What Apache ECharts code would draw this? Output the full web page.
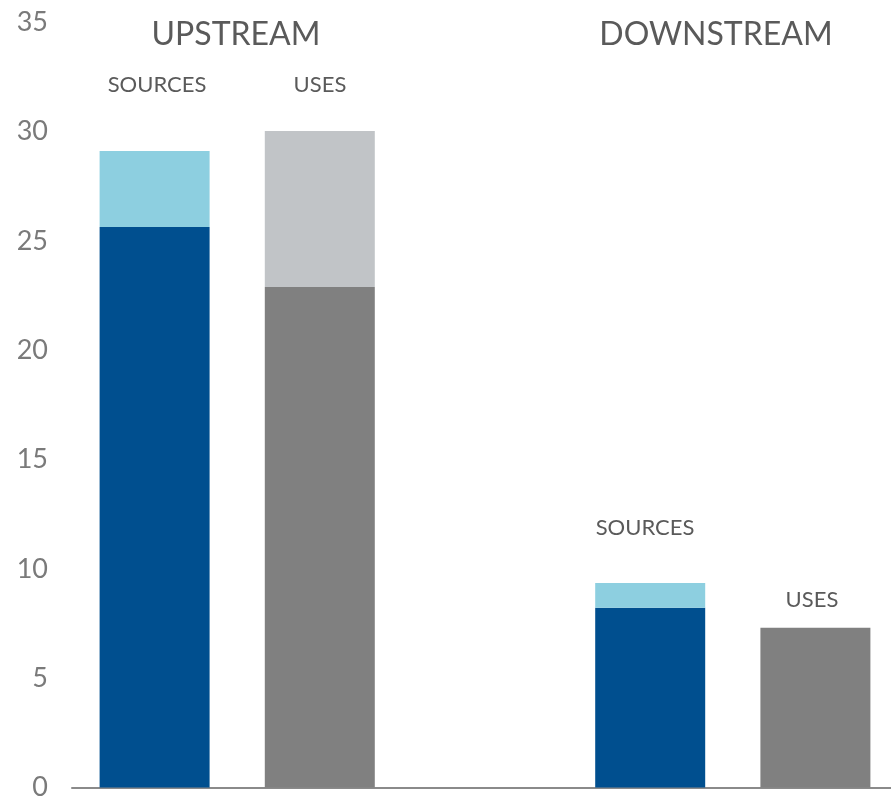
<!DOCTYPE html>
<html><head><meta charset="utf-8">
<script src="https://cdn.jsdelivr.net/npm/echarts@6/dist/echarts.min.js"></script>
<style>html,body{margin:0;padding:0;background:#fff;overflow:hidden}#c{width:891px;height:796px}</style>
</head><body><div id="c"></div>
<script>
const categories = ['Upstream Sources', 'Upstream Uses', '', 'Downstream Sources', 'Downstream Uses'];
const baseValues = [25.64, 22.9, null, 8.22, 7.31];
const topValues = [3.48, 7.14, null, 1.14, 0];
const baseColors = ['#004f8f', '#808080', '#fff', '#004f8f', '#808080'];
const topColors = ['#8dcfe0', '#c1c4c7', '#fff', '#8dcfe0', '#c1c4c7'];
const yTicks = [0, 5, 10, 15, 20, 25, 30, 35];

const chart = echarts.init(document.getElementById('c'));
const font = 'Lato';
function txt(s, x, y, size) {
  return { type: 'text', x: x, y: y, style: { text: s, fill: '#5a5a5a', font: size + 'px ' + font, textAlign: 'center', textVerticalAlign: 'middle' } };
}
chart.setOption({
  animation: false,
  grid: { left: 72, width: 826, top: 22.5, bottom: 8.5, containLabel: false, outerBoundsMode: 'none' },
  xAxis: {
    type: 'category', data: categories,
    axisLine: { lineStyle: { color: '#8a8a8a', width: 2 } },
    axisTick: { show: false }, axisLabel: { show: false }
  },
  yAxis: {
    type: 'value', min: yTicks[0], max: yTicks[yTicks.length - 1], interval: 5,
    axisLine: { show: false }, axisTick: { show: false }, splitLine: { show: false },
    axisLabel: { color: '#7a7a7a', fontSize: 27, fontFamily: font, margin: 24 }
  },
  series: [
    { type: 'bar', stack: 's', barWidth: 110,
      data: baseValues.map((v, i) => ({ value: v, itemStyle: { color: baseColors[i] } })) },
    { type: 'bar', stack: 's', barWidth: 110,
      data: topValues.map((v, i) => ({ value: v, itemStyle: { color: topColors[i] } })) }
  ],
  graphic: [
    txt('UPSTREAM', 236, 35, 32),
    txt('DOWNSTREAM', 716, 35, 32),
    txt('SOURCES', 157, 85, 22),
    txt('USES', 320, 85, 22),
    txt('SOURCES', 645, 528, 22),
    txt('USES', 812, 600, 22)
  ]
});
</script></body></html>
